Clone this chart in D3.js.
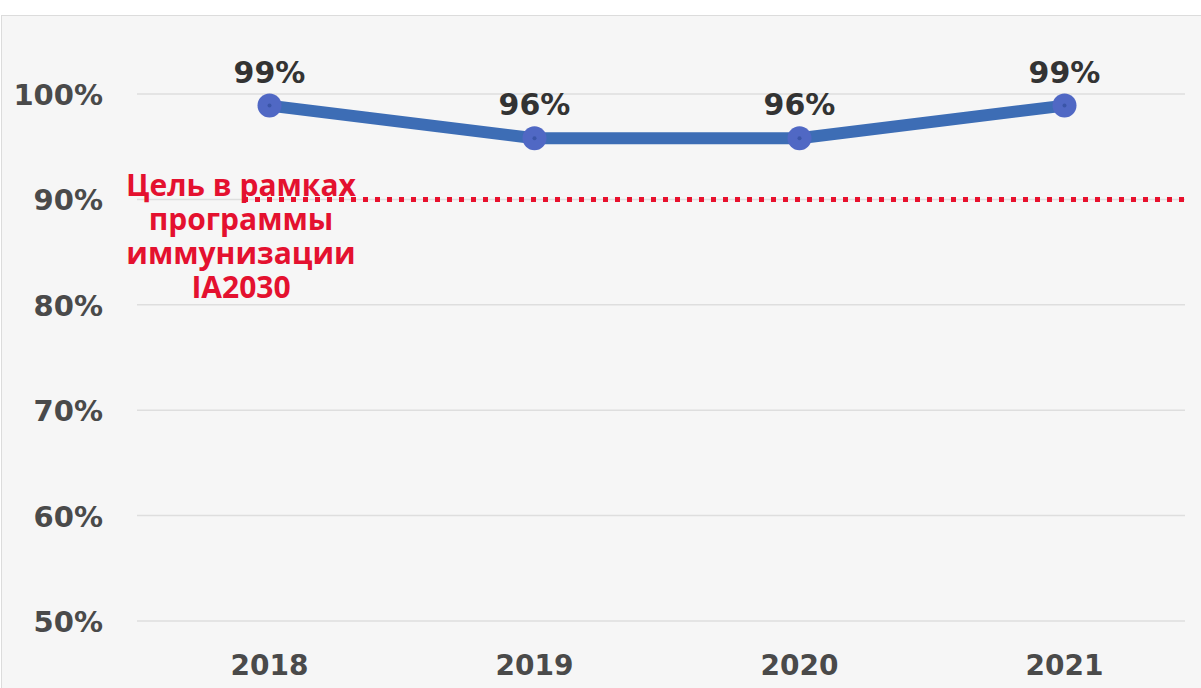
<html>
<script src='https://d3js.org/d3.v7.min.js'></script>
<body style='margin:0;background:#fff'>
    <div id='vis'></div>
    <script>
        // data
        const years = ['2018', '2019', '2020', '2021'];
        const coverage = [98.9, 95.8, 95.8, 98.9];
        const yTicks = [50, 60, 70, 80, 90, 100];
        const target = 90;
        const targetLabel = ['Цель в рамках', 'программы', 'иммунизации', 'IA2030'];

        const width = 1201, height = 688;
        const svg = d3.select('#vis').append('svg').attr('width', width).attr('height', height);

        // panel
        svg.append('rect').attr('x', 1.5).attr('y', 15.5).attr('width', width).attr('height', height)
            .attr('fill', '#f6f6f6').attr('stroke', '#dcdcdc');

        const x = d3.scalePoint().domain(years).range([137, 1197]).padding(0.5);
        const y = d3.scaleLinear().domain([50, 100]).range([621, 94]);

        // grid
        svg.selectAll('.grid').data(yTicks).enter().append('line')
            .attr('class', 'grid')
            .attr('x1', 137).attr('x2', 1185)
            .attr('y1', d => y(d)).attr('y2', d => y(d))
            .attr('stroke', '#dedede').attr('stroke-width', 1.5);

        // y labels
        svg.selectAll('.ylab').data(yTicks).enter().append('text')
            .attr('class', 'ylab')
            .attr('x', 103).attr('y', d => y(d) + 11)
            .attr('text-anchor', 'end')
            .style('font', 'bold 29px "DejaVu Sans"')
            .attr('fill', '#4a4a4a')
            .text(d => d + '%');

        // x labels
        svg.selectAll('.xlab').data(years).enter().append('text')
            .attr('class', 'xlab')
            .attr('x', d => x(d)).attr('y', 675)
            .attr('text-anchor', 'middle')
            .style('font', 'bold 28px "DejaVu Sans"')
            .attr('fill', '#4a4a4a')
            .text(d => d);

        // target line
        svg.append('line')
            .attr('x1', 243).attr('x2', 1185)
            .attr('y1', y(target)).attr('y2', y(target))
            .attr('stroke', '#e8112d').attr('stroke-width', 5)
            .attr('stroke-dasharray', '5 7');

        svg.append('text')
            .attr('x', 241).attr('y', 196)
            .attr('text-anchor', 'middle')
            .style('font', 'bold 30px "Open Sans"')
            .attr('fill', '#e4112f')
            .selectAll('tspan').data(targetLabel).enter().append('tspan')
            .attr('x', 241).attr('dy', (d, i) => i ? 34 : 0)
            .text(d => d);

        // series
        const pts = years.map((d, i) => [x(d), y(coverage[i])]);
        svg.append('path')
            .attr('d', d3.line()(pts))
            .attr('fill', 'none')
            .attr('stroke', '#3d6db5')
            .attr('stroke-width', 12)
            .attr('stroke-linejoin', 'round');

        svg.selectAll('.dot').data(pts).enter().append('circle')
            .attr('cx', d => d[0]).attr('cy', d => d[1]).attr('r', 12)
            .attr('fill', '#5068c4');
        svg.selectAll('.core').data(pts).enter().append('circle')
            .attr('cx', d => d[0]).attr('cy', d => d[1]).attr('r', 2)
            .attr('fill', '#3a55a8');

        svg.selectAll('.val').data(coverage).enter().append('text')
            .attr('x', (d, i) => x(years[i])).attr('y', d => y(d) - 23)
            .attr('text-anchor', 'middle')
            .style('font', 'bold 30px "DejaVu Sans"')
            .attr('fill', '#333')
            .text(d => d3.format('.0f')(d) + '%');
    </script>
</body>
</html>
